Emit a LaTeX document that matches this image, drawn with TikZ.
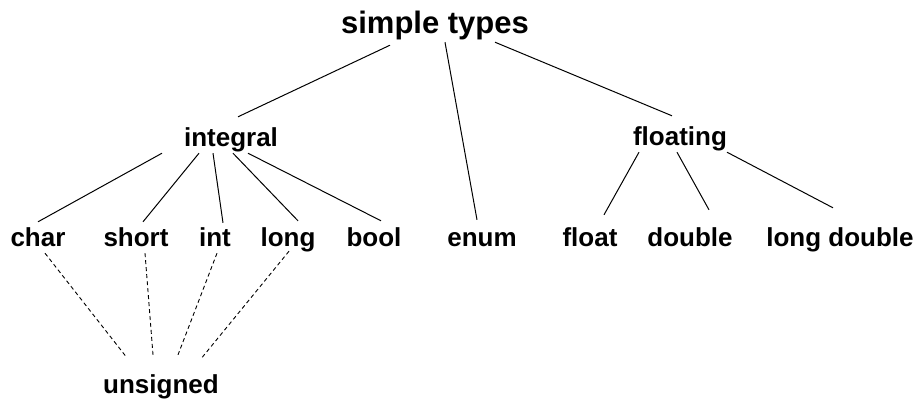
\documentclass[tikz,border=0pt]{standalone}
\usepackage{fontspec}
\setmainfont{Liberation Sans}
\usetikzlibrary{positioning}

\begin{document}
\begin{tikzpicture}[
    x=1pt, y=-1pt,
    typename/.style={font=\bfseries\fontsize{26}{30}\selectfont,anchor=base,inner xsep=0pt,inner ysep=1pt,text height=19pt,text depth=6pt},
    toptype/.style={font=\bfseries\fontsize{31}{36}\selectfont,anchor=base,inner xsep=0pt,inner ysep=1pt,text height=23pt,text depth=8pt},
    link/.style={line width=1pt},
    optional/.style={line width=0.9pt,dash pattern=on 4pt off 3pt}
]
\useasboundingbox (0,0) rectangle (920,400);

% Root
\node[toptype] (simple) at (435,33) {simple types};

% Categories
\node[typename] (integral) at (231,146) {integral};
\node[typename] (floating) at (680,145) {floating};

% Leaf types
\node[typename] (char) at (38,246) {char};
\node[typename] (short) at (136,246) {short};
\node[typename] (int) at (215,246) {int};
\node[typename] (long) at (288,246) {long};
\node[typename] (bool) at (374,246) {bool};
\node[typename] (enum) at (482,246) {enum};
\node[typename] (float) at (590,246) {float};
\node[typename] (double) at (690,246) {double};
\node[typename] (longdouble) at (840,246) {long double};

\node[typename] (unsigned) at (161,393) {unsigned};

% Root links
\draw[link] ([xshift=-45pt,yshift=-3pt]simple.south) -- ([xshift=7pt,yshift=9pt]integral.north);
\draw[link] ([xshift=10pt]simple.south) -- ([xshift=-5pt,yshift=6pt]enum.north);
\draw[link] ([xshift=60pt]simple.south) -- ([xshift=-8pt,yshift=9pt]floating.north);

% Integral links
\draw[link] ([xshift=-69pt]integral.south) -- ([yshift=4pt]char.north);
\draw[link] ([xshift=-32pt]integral.south) -- ([xshift=7pt,yshift=4pt]short.north);
\draw[link] ([xshift=-18pt]integral.south) -- ([xshift=8pt,yshift=3pt]int.north);
\draw[link] ([xshift=2pt]integral.south) -- ([xshift=10pt,yshift=5pt]long.north);
\draw[link] ([xshift=17pt]integral.south) -- ([xshift=7pt,yshift=5pt]bool.north);

% Floating links
\draw[link] ([xshift=-41pt]floating.south) -- ([xshift=14pt,yshift=11pt]float.north);
\draw[link] ([xshift=-3pt]floating.south) -- ([xshift=19pt,yshift=16pt]double.north);
\draw[link] ([xshift=47pt]floating.south) -- ([xshift=-7pt,yshift=18pt]longdouble.north);

% Unsigned variants
\draw[optional] ([xshift=7pt]char.south) -- ([xshift=-34pt,yshift=15pt]unsigned.north);
\draw[optional] ([xshift=9pt]short.south) -- ([xshift=-8pt,yshift=18pt]unsigned.north);
\draw[optional] ([xshift=2pt]int.south) -- ([xshift=17pt,yshift=18pt]unsigned.north);
\draw[optional] ([xshift=1pt,yshift=2pt]long.south) -- ([xshift=40pt,yshift=14pt]unsigned.north);

\end{tikzpicture}
\end{document}
